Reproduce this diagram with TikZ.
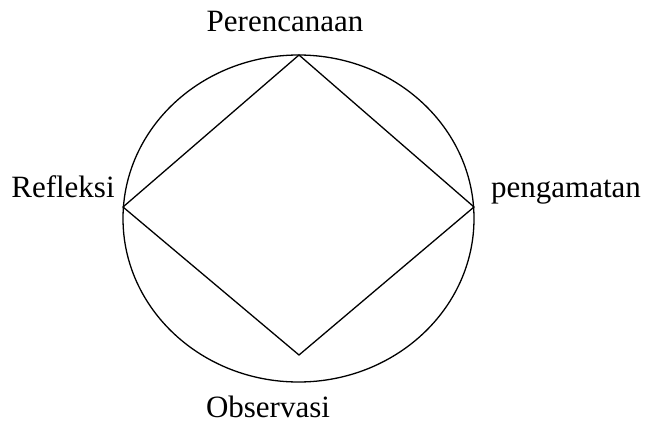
\documentclass[tikz,border=0pt]{standalone}
\usepackage{fontspec}
\setmainfont{Liberation Serif}
\usetikzlibrary{shapes.geometric}
\begin{document}
\begin{tikzpicture}[x=1pt,y=1pt,
  line/.style={line width=1.3pt, line join=miter},
  lbl/.style={inner sep=0pt, anchor=base, font=\fontsize{31}{31}\selectfont}]
\useasboundingbox (0,0) rectangle (650,424);
\node[line, draw, ellipse, minimum width=351pt, minimum height=327pt, inner sep=0pt] (cyc) at (298.5,205.5) {};
\coordinate (top) at (299,369);
\coordinate (right) at (474,217);
\coordinate (bottom) at (299,69);
\coordinate (left) at (123,217);
\draw[line] (top) -- (right) -- (bottom) -- (left) -- cycle;
\node[lbl] (plan) at (285,392) {Perencanaan};
\node[lbl] (refl) at (63,227) {Refleksi};
\node[lbl] (peng) at (566,227) {pengamatan};
\node[lbl] (obs) at (268,7) {Observasi};
\end{tikzpicture}
\end{document}
